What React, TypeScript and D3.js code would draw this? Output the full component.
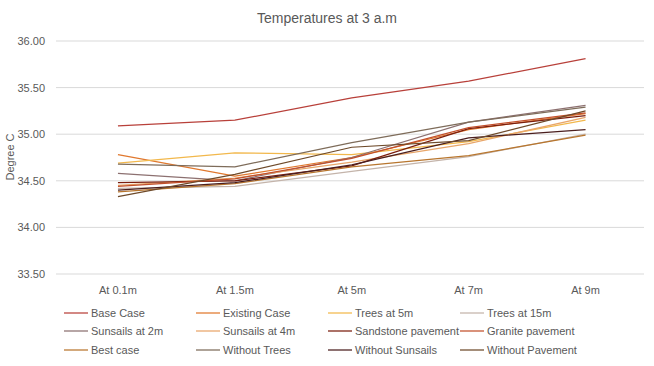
import React from "react";
import * as d3 from "d3";

const categories = ["At 0.1m", "At 1.5m", "At 5m", "At 7m", "At 9m"];
const yTicks = [33.5, 34.0, 34.5, 35.0, 35.5, 36.0];
const seriesNames = [
  "Base Case", "Existing Case", "Trees at 5m", "Trees at 15m",
  "Sunsails at 2m", "Sunsails at 4m", "Sandstone pavement", "Granite pavement",
  "Best case", "Without Trees", "Without Sunsails", "Without Pavement",
];
const baseCase = [35.09, 35.15, 35.39, 35.57, 35.81];
const existingCase = [34.78, 34.55, 34.75, 35.05, 35.22];
const trees5 = [34.69, 34.8, 34.78, 34.92, 35.15];
const trees15 = [34.42, 34.44, 34.6, 34.76, 35.0];
const sunsails2 = [34.58, 34.5, 34.75, 35.13, 35.31];
const sunsails4 = [34.45, 34.53, 34.7, 34.9, 35.18];
const sandstone = [34.48, 34.5, 34.66, 35.06, 35.2];
const granite = [34.44, 34.52, 34.74, 35.07, 35.23];
const bestCase = [34.38, 34.47, 34.65, 34.77, 34.99];
const withoutTrees = [34.68, 34.65, 34.91, 35.13, 35.29];
const withoutSunsails = [34.4, 34.48, 34.67, 34.96, 35.05];
const withoutPavement = [34.33, 34.57, 34.86, 34.93, 35.25];

const seriesValues = [
  baseCase, existingCase, trees5, trees15, sunsails2, sunsails4,
  sandstone, granite, bestCase, withoutTrees, withoutSunsails, withoutPavement,
];
const colors = [
  "#B8403A", "#E0782E", "#F2B84C", "#C4B4AA", "#8C7070", "#E8A66A",
  "#7A1E0E", "#C2502C", "#B8762E", "#7E6C5A", "#4A1E1E", "#6E4A2A",
];

export default function App() {
  const W = 654, H = 366;
  const x = d3.scaleBand().domain(categories).range([59.5, 644]);
  const y = d3.scaleLinear().domain([33.5, 36]).range([274, 41]);
  const line = d3
    .line<number>()
    .x((_, i) => x(categories[i])! + x.bandwidth() / 2)
    .y((d) => y(d));
  const font = "Liberation Sans, Arial, sans-serif";
  const legendX = [64, 196, 328, 460];
  const legendY = [313, 331, 350];
  return (
    <svg width={W} height={H} style={{ position: "absolute", left: 0, top: 0 }} fontFamily={font}>
      <rect width={W} height={H} fill="#fff" />
      <text x={327} y={23} textAnchor="middle" fontSize={14} fill="#595959">
        Temperatures at 3 a.m
      </text>
      {yTicks.map((t) => (
        <g key={t}>
          <line x1={56} x2={644} y1={y(t)} y2={y(t)} stroke="#D9D9D9" strokeWidth={1} />
          <text x={45} y={y(t) + 4} textAnchor="end" fontSize={11} fill="#595959">
            {t.toFixed(2)}
          </text>
        </g>
      ))}
      {categories.map((c) => (
        <text key={c} x={x(c)! + x.bandwidth() / 2} y={294} textAnchor="middle" fontSize={11} fill="#595959">
          {c}
        </text>
      ))}
      <text transform={`translate(14,157) rotate(-90)`} textAnchor="middle" fontSize={11} fill="#595959">
        Degree C
      </text>
      {seriesValues.map((vals, i) => (
        <path key={i} d={line(vals)!} fill="none" stroke={colors[i]} strokeWidth={1.25} />
      ))}
      {seriesNames.map((n, i) => {
        const lx = legendX[i % 4];
        const ly = legendY[Math.floor(i / 4)];
        return (
          <g key={n}>
            <line x1={lx} x2={lx + 24} y1={ly} y2={ly} stroke={colors[i]} strokeWidth={1.25} />
            <text x={lx + 27} y={ly + 4} fontSize={11} fill="#595959">
              {n}
            </text>
          </g>
        );
      })}
    </svg>
  );
}
